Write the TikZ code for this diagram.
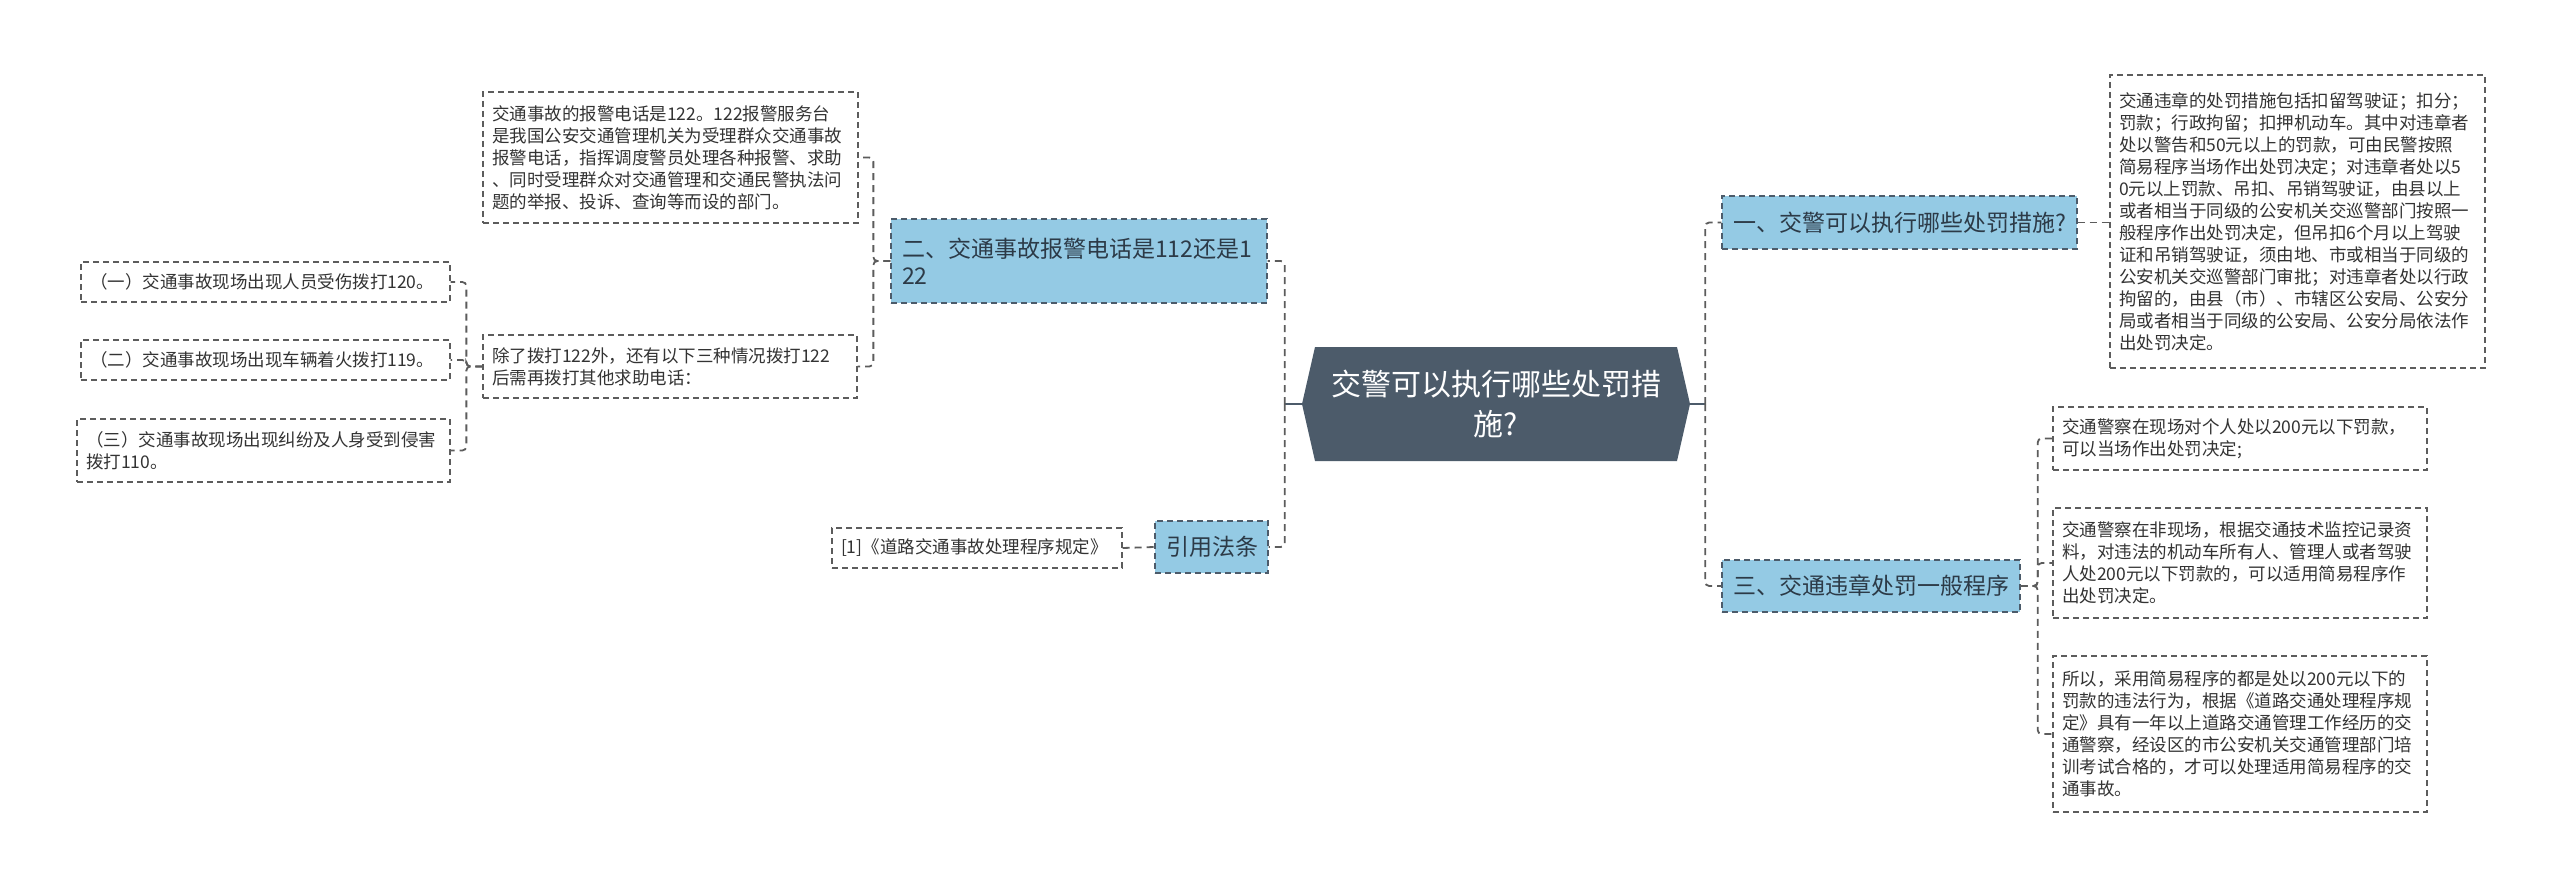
\documentclass[tikz,border=0pt]{standalone}
\usepackage{fontspec}
\setmainfont{Noto Sans CJK SC}
\usetikzlibrary{calc}
\definecolor{blueA}{HTML}{94CAE4}
\definecolor{darkA}{HTML}{4C5B6A}
\definecolor{txtc}{HTML}{333333}
\definecolor{bord}{HTML}{5C5C5C}
\definecolor{bluetxt}{HTML}{2C3A47}
\tikzset{
 txtbox/.style={draw=bord, dash pattern=on 6pt off 4pt, line width=1.3pt, fill=white, text=txtc,
   font=\fontsize{17.5}{22}\selectfont, align=left, inner xsep=9pt, inner ysep=0pt, anchor=center},
 bluebox/.style={draw=darkA, dash pattern=on 6pt off 4pt, line width=1.3pt, fill=blueA, text=bluetxt,
   font=\fontsize{23}{27}\selectfont, align=left, inner xsep=11pt, inner ysep=0pt, anchor=center},
 conn/.style={draw=bord, line width=1.8pt, dash pattern=on 7pt off 5pt, rounded corners=4pt},
 stub/.style={draw=darkA, line width=1.8pt},
}
\begin{document}
\begin{tikzpicture}[x=1pt,y=-1pt]
\useasboundingbox[fill=white] (0,0) rectangle (2560,888);

% center hexagon
\fill[darkA] (1302,404) -- (1315,347) -- (1677,347) -- (1690,404) -- (1677,461) -- (1315,461) -- cycle;
\node[minimum width=388pt, minimum height=114pt, inner sep=0pt, text=white, align=center,
  font=\fontsize{30}{40}\selectfont] (ctr) at (1496,404) {交警可以执行哪些处罚措\\施?};

% left side
\node[bluebox, text width=354pt, minimum height=84pt] (D) at (1079,261) {二、交通事故报警电话是112还是1\\22};
\node[bluebox, text width=91pt, minimum height=52pt] (E) at (1211.5,547) {引用法条};
\node[txtbox, text width=272pt, minimum height=40pt] (F) at (977,548) {[1]《道路交通事故处理程序规定》};

\node[txtbox, text width=357pt, minimum height=131pt] (A) at (670.5,157.5) {交通事故的报警电话是122。122报警服务台\\是我国公安交通管理机关为受理群众交通事故\\报警电话，指挥调度警员处理各种报警、求助\\、同时受理群众对交通管理和交通民警执法问\\题的举报、投诉、查询等而设的部门。};
\node[txtbox, text width=356pt, minimum height=63pt] (B) at (670,366.5) {除了拨打122外，还有以下三种情况拨打122\\后需再拨打其他求助电话：};

\node[txtbox, text width=351pt, minimum height=40pt] (C1) at (265.5,282) {（一）交通事故现场出现人员受伤拨打120。};
\node[txtbox, text width=351pt, minimum height=40pt] (C2) at (265.5,360) {（二）交通事故现场出现车辆着火拨打119。};
\node[txtbox, text width=355pt, minimum height=63pt] (C3) at (263.5,450.5) {（三）交通事故现场出现纠纷及人身受到侵害\\拨打110。};

% right side
\node[bluebox, text width=333pt, minimum height=53pt] (G) at (1899.5,222.5) {一、交警可以执行哪些处罚措施?};
\node[bluebox, text width=276pt, minimum height=52pt] (I) at (1871,586) {三、交通违章处罚一般程序};

\node[txtbox, text width=357pt, minimum height=293pt] (H) at (2297.5,221.5) {交通违章的处罚措施包括扣留驾驶证；扣分；\\罚款；行政拘留；扣押机动车。其中对违章者\\处以警告和50元以上的罚款，可由民警按照\\简易程序当场作出处罚决定；对违章者处以5\\0元以上罚款、吊扣、吊销驾驶证，由县以上\\或者相当于同级的公安机关交巡警部门按照一\\般程序作出处罚决定，但吊扣6个月以上驾驶\\证和吊销驾驶证，须由地、市或相当于同级的\\公安机关交巡警部门审批；对违章者处以行政\\拘留的，由县（市）、市辖区公安局、公安分\\局或者相当于同级的公安局、公安分局依法作\\出处罚决定。};

\node[txtbox, text width=356pt, minimum height=63pt] (J1) at (2240,438.5) {交通警察在现场对个人处以200元以下罚款，\\可以当场作出处罚决定;};
\node[txtbox, text width=356pt, minimum height=110pt] (J2) at (2240,563) {交通警察在非现场，根据交通技术监控记录资\\料，对违法的机动车所有人、管理人或者驾驶\\人处200元以下罚款的，可以适用简易程序作\\出处罚决定。};
\node[txtbox, text width=356pt, minimum height=156pt] (J3) at (2240,734) {所以，采用简易程序的都是处以200元以下的\\罚款的违法行为，根据《道路交通处理程序规\\定》具有一年以上道路交通管理工作经历的交\\通警察，经设区的市公安机关交通管理部门培\\训考试合格的，才可以处理适用简易程序的交\\通事故。};

% connectors
\coordinate (LB) at ($(ctr.west)+(-17,0)$);
\coordinate (RB) at ($(ctr.east)+(15,0)$);
\draw[stub] (ctr.west) -- (LB);
\draw[stub] (ctr.east) -- (RB);
\draw[conn] (LB) |- (D.east);
\draw[conn] (LB) |- (E.east);
\draw[conn] (RB) |- (G.west);
\draw[conn] (RB) |- (I.west);

\draw[conn] (F.east) -- (E.west);

\draw[conn] (D.west) -- ++(-17,0) |- (A.east);
\draw[conn] (D.west) -- ++(-17,0) |- (B.east);

\draw[conn] (B.west) -- ++(-16,0) |- (C1.east);
\draw[conn] (B.west) -- ++(-16,0) |- (C2.east);
\draw[conn] (B.west) -- ++(-16,0) |- (C3.east);

\draw[conn] (G.east) -- (G.east -| H.west);

\draw[conn] (I.east) -- ++(17,0) |- (J1.west);
\draw[conn] (I.east) -- ++(17,0) |- (J2.west);
\draw[conn] (I.east) -- ++(17,0) |- (J3.west);
\end{tikzpicture}
\end{document}
